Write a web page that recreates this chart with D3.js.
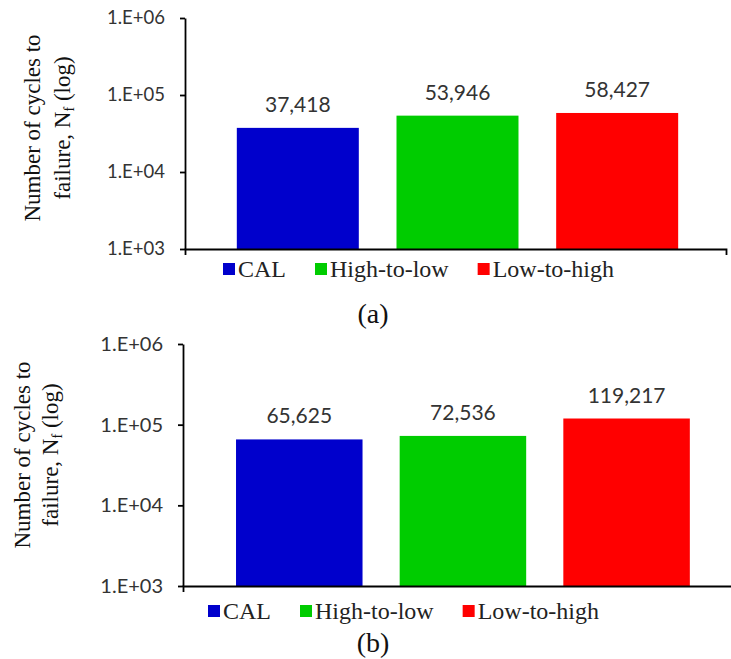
<!DOCTYPE html>
<html>
<head>
<meta charset="utf-8">
<script src="https://cdn.jsdelivr.net/npm/d3@7"></script>
<style>
  body { margin: 0; background: #fff; }
  svg { display: block; }
</style>
</head>
<body>
<svg id="chart" width="731" height="659"></svg>
<script>
// data
const categories = ['CAL', 'High-to-low', 'Low-to-high'];
const cyclesA = [37418, 53946, 58427];
const cyclesB = [65625, 72536, 119217];
const yTicks = [1e3, 1e4, 1e5, 1e6];
const barColors = ['#0000cc', '#00cc00', '#ff0000'];
const panelLabels = ['(a)', '(b)'];

// layout for the two stacked panels
const panels = [
  { values: cyclesA, label: panelLabels[0], left: 185, right: 726, top: 18, bottom: 249,
    align: 0.52, padIn: 0.236, padOut: 0.312, tickFont: 18.5,
    titleX: [40, 70], titleY: 128, legendX: 223, legendY: 263, labelY: 323 },
  { values: cyclesB, label: panelLabels[1], left: 183, right: 735, top: 344, bottom: 586,
    align: 0.54, padIn: 0.227, padOut: 0.3, tickFont: 20,
    titleX: [30, 58], titleY: 455, legendX: 208, legendY: 605, labelY: 652 }
];

const svg = d3.select('#chart');
const fmtTick = (d) => '1.E+' + String(Math.round(Math.log10(d))).padStart(2, '0');
const fmtVal = d3.format(',');

panels.forEach((p) => {
  const g = svg.append('g');

  const x = d3.scaleBand()
              .domain(categories)
              .range([p.left, p.right])
              .paddingInner(p.padIn)
              .paddingOuter(p.padOut)
              .align(p.align);
  const y = d3.scaleLog()
              .domain([1e3, 1e6])
              .range([p.bottom, p.top]);

  g.selectAll('rect.bar')
   .data(p.values)
   .enter()
   .append('rect')
   .attr('class', 'bar')
   .attr('x', (d, i) => x(categories[i]))
   .attr('width', x.bandwidth())
   .attr('y', (d) => y(d))
   .attr('height', (d) => y(1e3) - y(d))
   .attr('fill', (d, i) => barColors[i]);

  g.selectAll('text.val')
   .data(p.values)
   .enter()
   .append('text')
   .attr('class', 'val')
   .attr('x', (d, i) => x(categories[i]) + x.bandwidth() / 2)
   .attr('y', (d) => y(d) - 16)
   .attr('text-anchor', 'middle')
   .attr('font-family', 'Lato, sans-serif')
   .attr('font-size', 21)
   .attr('fill', '#333')
   .text((d) => fmtVal(d));

  const yAxis = d3.axisLeft(y)
                  .tickValues(yTicks)
                  .tickFormat(fmtTick)
                  .tickSizeInner(5)
                  .tickSizeOuter(0)
                  .tickPadding(15);
  const ya = g.append('g')
              .attr('transform', `translate(${p.left}, 0)`)
              .call(yAxis);
  ya.selectAll('text')
    .attr('font-family', 'Lato, sans-serif')
    .attr('font-size', p.tickFont)
    .attr('fill', '#333');

  const xAxis = d3.axisBottom(x)
                  .tickSizeInner(0)
                  .tickSizeOuter(6)
                  .tickFormat('');
  g.append('g')
   .attr('transform', `translate(0, ${p.bottom})`)
   .call(xAxis);

  g.selectAll('.domain, .tick line')
   .attr('stroke', '#000')
   .attr('stroke-width', 1.8);

  // axis title, two lines, rotated
  const titleLines = [['Number of cycles to'], ['failure, N', 'f', ' (log)']];
  titleLines.forEach((parts, li) => {
    const t = g.append('text')
               .attr('transform', `translate(${p.titleX[li]}, ${p.titleY}) rotate(-90)`)
               .attr('text-anchor', 'middle')
               .attr('font-family', '"Liberation Serif", "Times New Roman", serif')
               .attr('font-size', 23)
               .attr('fill', '#111');
    parts.forEach((s, k) => {
      const ts = t.append('tspan').text(s);
      if (k === 1) ts.attr('font-size', 14).attr('dy', 4);
      if (k === 2) ts.attr('dy', -4);
    });
  });

  // legend
  let lx = p.legendX;
  categories.forEach((c, i) => {
    g.append('rect')
     .attr('x', lx)
     .attr('y', p.legendY)
     .attr('width', 12)
     .attr('height', 12)
     .attr('fill', barColors[i]);
    const t = g.append('text')
               .attr('x', lx + 15)
               .attr('y', p.legendY + 14)
               .attr('font-family', '"Liberation Serif", "Times New Roman", serif')
               .attr('font-size', 24)
               .attr('fill', '#222')
               .text(c);
    lx += 15 + t.node().getComputedTextLength() + 29;
  });

  g.append('text')
   .attr('x', 373)
   .attr('y', p.labelY)
   .attr('text-anchor', 'middle')
   .attr('font-family', '"Liberation Serif", "Times New Roman", serif')
   .attr('font-size', 28)
   .attr('fill', '#111')
   .text(p.label);
});
</script>
</body>
</html>
